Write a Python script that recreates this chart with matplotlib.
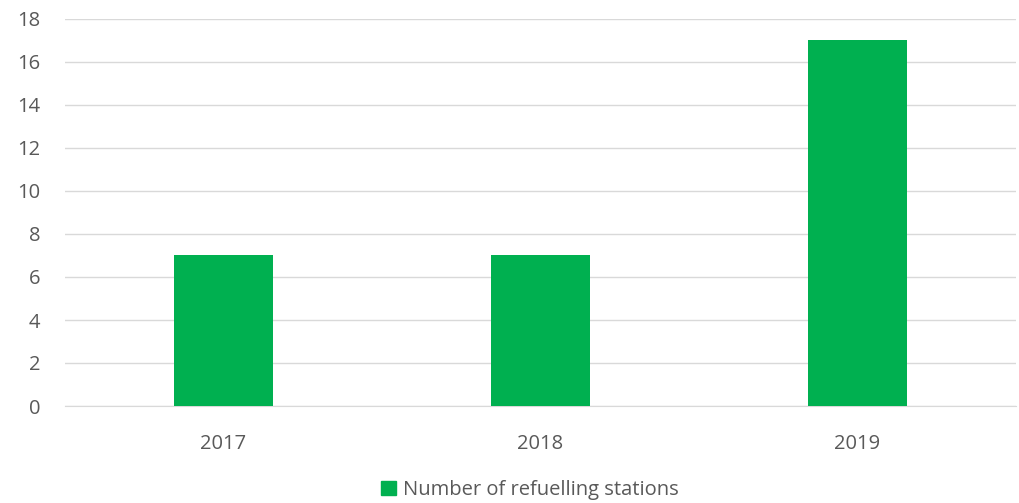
import matplotlib
matplotlib.use("Agg")
import matplotlib.pyplot as plt
from matplotlib.patches import Patch

years = ["2017", "2018", "2019"]
stations = [7, 7, 17]
yticks = [0, 2, 4, 6, 8, 10, 12, 14, 16, 18]

plt.rcParams['font.family'] = ['Open Sans', 'DejaVu Sans']
fig = plt.figure(figsize=(10.19, 5.03), dpi=100)
ax = fig.add_axes([65/1019, 1-406/503, (1016-65)/1019, (406-19)/503])

x = list(range(len(years)))
ax.bar(x, stations, width=0.31, color="#00B050", zorder=3)
ax.set_xlim(-0.5, len(years)-0.5)
ax.set_ylim(0, 18)
ax.set_yticks(yticks)
ax.set_xticks(x)
ax.set_xticklabels(years)
ax.grid(axis='y', color='#D9D9D9', linewidth=1, zorder=0)
for s in ['top', 'right', 'left']:
    ax.spines[s].set_visible(False)
ax.spines['bottom'].set_color('#D9D9D9')
ax.tick_params(axis='both', length=0, colors='#595959', labelsize=14.5)
ax.tick_params(axis='y', pad=18)
ax.tick_params(axis='x', pad=20)

handles = [Patch(color="#00B050", label="Number of refuelling stations")]
fig.legend(handles=handles, loc='center', bbox_to_anchor=(0.520, 1-490/503),
           frameon=False, fontsize=14.5, handlelength=0.75, handleheight=0.75,
           handletextpad=0.35, labelcolor='#595959')

fig.savefig("out.png", dpi=100)
